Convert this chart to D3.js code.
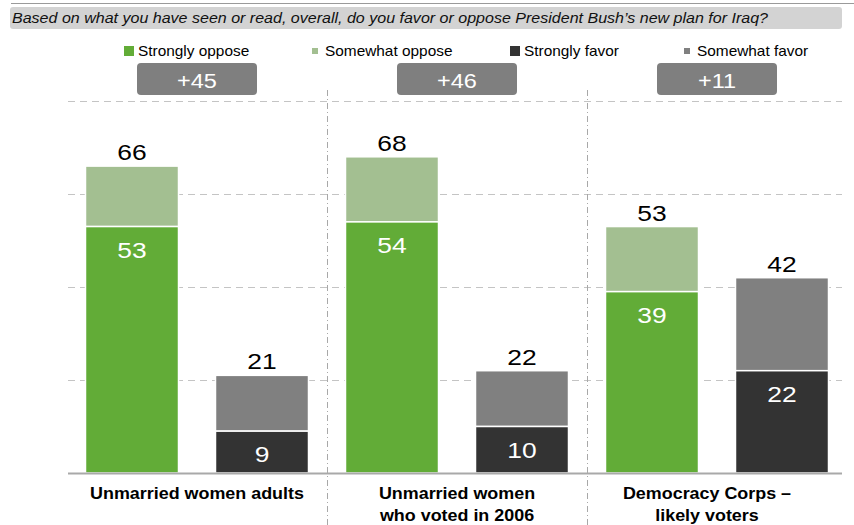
<!DOCTYPE html>
<html>
<head>
<meta charset="utf-8">
<script src="https://cdn.jsdelivr.net/npm/d3@7"></script>
<style>
  html, body { margin: 0; padding: 0; background: #fff; }
  svg { display: block; font-family: Arial, "Liberation Sans", sans-serif; }
</style>
</head>
<body>
<svg id="chart" width="854" height="525"></svg>
<script>
// ---- Data ----
const title = "Based on what you have seen or read, overall, do you favor or oppose President Bush\u2019s new plan for Iraq?";
const categories = ["Unmarried women adults", "Unmarried women who voted in 2006", "Democracy Corps \u2013 likely voters"];
const categoryLines = [["Unmarried women adults"], ["Unmarried women", "who voted in 2006"], ["Democracy Corps \u2013", "likely voters"]];
const stronglyOppose = [53, 54, 39];
const totalOppose = [66, 68, 53];
const stronglyFavor = [9, 10, 22];
const totalFavor = [21, 22, 42];
const netLabels = ["+45", "+46", "+11"];
const legendLabels = ["Strongly oppose", "Somewhat oppose", "Strongly favor", "Somewhat favor"];
const yTicks = [20, 40, 60, 80];

// ---- Styles ----
const colors = {
  strongOppose: "#62ac37",
  someOppose: "#a3bf91",
  strongFavor: "#333333",
  someFavor: "#808080"
};

const svg = d3.select("#chart");

// helper: horizontally stretched text
function stext(parent, x, y, str, size, sx, anchor, fill, weight) {
  return parent.append("text")
    .attr("transform", `translate(${x},${y}) scale(${sx},1)`)
    .attr("text-anchor", anchor || "start")
    .attr("font-size", size)
    .attr("font-weight", weight || "normal")
    .attr("fill", fill || "#000")
    .text(str);
}

// Scales
const x = d3.scaleBand().domain(categories).range([67, 847]).padding(0);
const inner = d3.scaleBand().domain(["oppose", "favor"]).range([0, x.bandwidth()])
  .paddingInner(0.2846).paddingOuter(0.1423);
const y = d3.scaleLinear().domain([0, 80]).range([473, 101]);

// Title bar
svg.append("line").attr("x1", 11).attr("x2", 854).attr("y1", 3.5).attr("y2", 3.5)
  .attr("stroke", "#9a9a9a").attr("stroke-width", 1);
svg.append("rect").attr("x", 10).attr("y", 7).attr("width", 832).attr("height", 22)
  .attr("rx", 3).attr("fill", "#d3d3d3");
svg.append("text").attr("x", 12).attr("y", 22.5).attr("font-size", 13.8)
  .attr("font-style", "italic").attr("fill", "#111")
  .attr("textLength", 756).attr("lengthAdjust", "spacingAndGlyphs").text(title);

// Gridlines
svg.append("g").selectAll("line").data(yTicks).join("line")
  .attr("x1", 68).attr("x2", 842)
  .attr("y1", d => Math.round(y(d)) + 0.5).attr("y2", d => Math.round(y(d)) + 0.5)
  .attr("stroke", "#c4c4c4").attr("stroke-width", 1.2).attr("stroke-dasharray", "7,5");

// Group dividers
svg.append("g").selectAll("line").data(categories.slice(1)).join("line")
  .attr("x1", d => Math.round(x(d)) + 0.5).attr("x2", d => Math.round(x(d)) + 0.5)
  .attr("y1", 90).attr("y2", 525)
  .attr("stroke", "#a8a8a8").attr("stroke-width", 1).attr("stroke-dasharray", "6,3,1,3");

// Bars
const segs = [];
categories.forEach((c, i) => {
  segs.push({c, k: "oppose", y0: totalOppose[i], y1: stronglyOppose[i], fill: colors.someOppose});
  segs.push({c, k: "oppose", y0: stronglyOppose[i], y1: 0, fill: colors.strongOppose});
  segs.push({c, k: "favor", y0: totalFavor[i], y1: stronglyFavor[i], fill: colors.someFavor});
  segs.push({c, k: "favor", y0: stronglyFavor[i], y1: 0, fill: colors.strongFavor});
});

svg.append("g").selectAll("rect").data(segs).join("rect")
  .attr("x", d => x(d.c) + inner(d.k))
  .attr("width", inner.bandwidth())
  .attr("y", d => y(d.y0))
  .attr("height", d => y(d.y1) - y(d.y0))
  .attr("fill", d => d.fill)
  .attr("stroke", "#ffffff").attr("stroke-width", 1.5);

// Baseline
svg.append("line").attr("x1", 68).attr("x2", 842).attr("y1", y(0) + 0.5).attr("y2", y(0) + 0.5)
  .attr("stroke", "#a9a9a9").attr("stroke-width", 2);

// Value labels
const lab = svg.append("g");
categories.forEach((c, i) => {
  const cx1 = x(c) + inner("oppose") + inner.bandwidth() / 2;
  const cx2 = x(c) + inner("favor") + inner.bandwidth() / 2;
  stext(lab, cx1, y(totalOppose[i]) - 6, totalOppose[i], 22, 1.2, "middle", "#000");
  stext(lab, cx1, y(stronglyOppose[i]) + 31, stronglyOppose[i], 22, 1.2, "middle", "#fff");
  stext(lab, cx2, y(totalFavor[i]) - 6, totalFavor[i], 22, 1.2, "middle", "#000");
  stext(lab, cx2, y(stronglyFavor[i]) + 31, stronglyFavor[i], 22, 1.2, "middle", "#fff");
});

// Category axis labels
const catCenterShift = [0, 0, -10];
categories.forEach((c, i) => {
  const cx = x(c) + x.bandwidth() / 2 + catCenterShift[i];
  categoryLines[i].forEach((ln, j) => {
    stext(svg, cx, 499 + j * 22, ln, 16, 1.12, "middle", "#000", "bold");
  });
});

// Net boxes
categories.forEach((c, i) => {
  const cx = x(c) + x.bandwidth() / 2;
  svg.append("rect").attr("x", cx - 60).attr("y", 63).attr("width", 120).attr("height", 32)
    .attr("rx", 4).attr("fill", "#7f7f7f");
  stext(svg, cx, 87.5, netLabels[i], 21, 1.12, "middle", "#fff");
});

// Legend
const legendItems = [
  {label: legendLabels[0], color: colors.strongOppose, size: 10, x: 124},
  {label: legendLabels[1], color: colors.someOppose, size: 6, x: 312},
  {label: legendLabels[2], color: colors.strongFavor, size: 10, x: 510},
  {label: legendLabels[3], color: colors.someFavor, size: 6, x: 684}
];
const lg = svg.append("g");
legendItems.forEach(d => {
  lg.append("rect").attr("x", d.x).attr("y", 51 - d.size / 2).attr("width", d.size).attr("height", d.size)
    .attr("fill", d.color);
  stext(lg, d.x + d.size + (d.size === 10 ? 4 : 7), 56, d.label, 14, 1.1, "start", "#000");
});
</script>
</body>
</html>
